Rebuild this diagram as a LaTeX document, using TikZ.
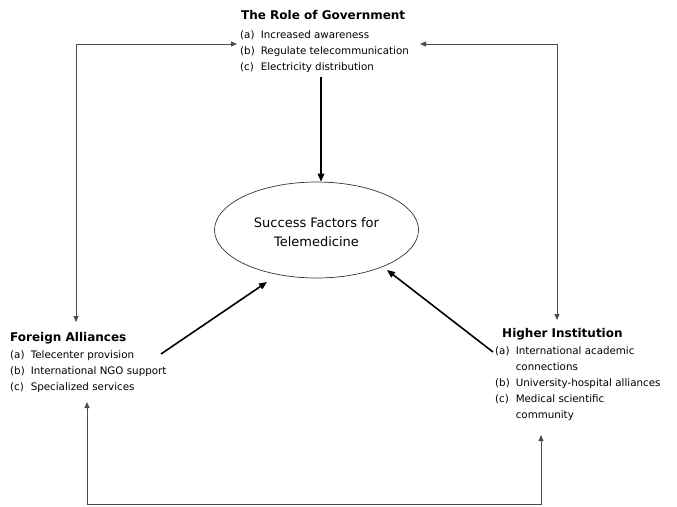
\documentclass[tikz,border=0pt]{standalone}
\usepackage{fontspec}
\setmainfont{DejaVu Sans}
\usetikzlibrary{arrows.meta,shapes.geometric}
\newcommand{\lblgap}{\hspace{6pt}}
\begin{document}
\begin{tikzpicture}[x=1pt,y=-1pt,
  link/.style={draw=black!70, line width=0.9pt, {Triangle[length=6pt,width=5pt]}-{Triangle[length=6pt,width=5pt]}},
  feed/.style={draw=black, line width=1.6pt, -{Triangle[length=8pt,width=6.5pt]}},
  headtxt/.style={anchor=base west, inner sep=0pt, font=\bfseries\fontsize{12}{14}\selectfont},
  listtxt/.style={anchor=base west, inner sep=0pt, font=\fontsize{10.3}{16}\selectfont},
  centre/.style={ellipse, draw=black!80, line width=0.7pt, minimum width=204pt, minimum height=96pt, inner sep=0pt},
  ctxt/.style={anchor=base, inner sep=0pt, font=\fontsize{13}{19}\selectfont}
]
\useasboundingbox (0,0) rectangle (677,506);

% Government
\node[headtxt] (govt) at (241,19.5) {The Role of Government};
\node[listtxt] (govl) at (240,38.5) {\fontsize{10.3}{16}\selectfont\begin{tabular}[t]{@{}l@{\lblgap}l@{}}(a) & Increased awareness\\(b) & Regulate telecommunication\\(c) & Electricity distribution\end{tabular}};

% Foreign Alliances
\node[headtxt] (fat) at (10,341) {Foreign Alliances};
\node[listtxt] (fal) at (10,358.5) {\fontsize{10.3}{16}\selectfont\begin{tabular}[t]{@{}l@{\lblgap}l@{}}(a) & Telecenter provision\\(b) & International NGO support\\(c) & Specialized services\end{tabular}};

% Higher Institution
\node[headtxt] (hit) at (502,337) {Higher Institution};
\node[listtxt] (hil) at (495,354.5) {\fontsize{10.3}{16}\selectfont\begin{tabular}[t]{@{}l@{\lblgap}l@{}}(a) & International academic\\ & connections\\(b) & University-hospital alliances\\(c) & Medical scientific\\ & community\end{tabular}};

% Centre
\node[centre] (ell) at (316.5,230) {};
\node[ctxt] (ellt) at (316.5,227) {Success Factors for};
\node[ctxt] (ellb) at (316.5,246.5) {Telemedicine};

% connector points
\coordinate (govL) at (237,44);
\coordinate (cTL) at (76,44);
\coordinate (faTop) at (76,322);
\coordinate (govR) at (420,44);
\coordinate (cTR) at (557,44);
\coordinate (hiTop) at (557,320);
\coordinate (faBot) at (87,402);
\coordinate (cBL) at (87,504);
\coordinate (cBR) at (541,504);
\coordinate (hiBot) at (541,435);
\coordinate (govD) at (321,77);
\coordinate (faS) at (161,354);
\coordinate (faE) at (267,282);
\coordinate (hiS) at (493,352);
\coordinate (hiE) at (387,270);

\draw[link] (govL) -- (cTL) -- (faTop);
\draw[link] (govR) -- (cTR) -- (hiTop);
\draw[link] (faBot) -- (cBL) -- (cBR) -- (hiBot);
\draw[feed] (govD) -- (govD |- ell.north);
\draw[feed] (faS) -- (faE);
\draw[feed] (hiS) -- (hiE);
\end{tikzpicture}
\end{document}
